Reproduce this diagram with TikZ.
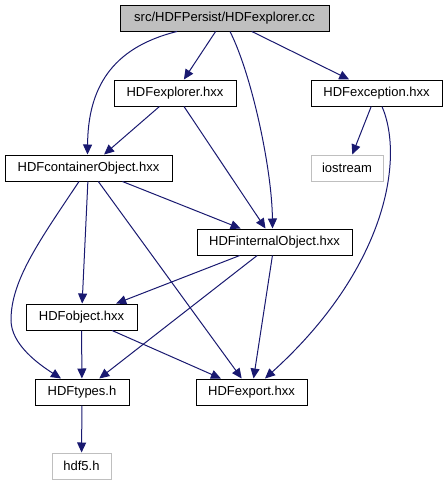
\documentclass[tikz,border=0pt]{standalone}
\usepackage{fontspec}
\setmainfont{Liberation Sans}
\usetikzlibrary{positioning,arrows.meta,calc}
\definecolor{edgeblue}{HTML}{191970}
\definecolor{sysgray}{HTML}{BFBFBF}

\begin{document}
\begin{tikzpicture}[
  x=1pt, y=-1pt,
  >={Triangle[length=10pt,width=9pt]},
  hdr/.style={draw=black, line width=1pt, minimum height=26pt, inner sep=0pt, font=\fontsize{13}{15}\selectfont},
  srcbox/.style={hdr, fill=sysgray},
  sysbox/.style={hdr, draw=sysgray},
  edge/.style={->, draw=edgeblue, line width=1pt},
]
  \useasboundingbox (0,0) rectangle (447,485);
  % nodes
  \node[srcbox, minimum width=209pt] (cc) at (224.5,18) {src/HDFPersist/HDFexplorer.cc};
  \node[hdr, minimum width=122pt] (expl) at (175,93) {HDFexplorer.hxx};
  \node[hdr, minimum width=131pt] (exc) at (376.5,93) {HDFexception.hxx};
  \node[hdr, minimum width=167pt] (cont) at (88.5,168) {HDFcontainerObject.hxx};
  \node[sysbox, minimum width=72pt] (ios) at (347,168) {iostream};
  \node[hdr, minimum width=155pt] (intern) at (274.5,242) {HDFinternalObject.hxx};
  \node[hdr, minimum width=111pt] (obj) at (81.5,317) {HDFobject.hxx};
  \node[hdr, minimum width=94pt] (types) at (82,392) {HDFtypes.h};
  \node[hdr, minimum width=111pt] (exp) at (251.5,392) {HDFexport.hxx};
  \node[sysbox, minimum width=59pt] (hdf) at (81.5,466) {hdf5.h};
  % edges
  \draw[edge] ($(cc.south)+(-47.5,0)$) .. controls (110,48) and (88,90) .. ($(cont.north)+(-1,0)$);
  \draw[edge] (cc) -- (expl);
  \draw[edge] ($(cc.south)+(5.5,0)$) .. controls (252,75) and (272,170) .. ($(intern.north)+(-2,0)$);
  \draw[edge] (cc) -- (exc);
  \draw[edge] (expl) -- (cont);
  \draw[edge] (expl) -- (intern);
  \draw[edge] (exc) -- (ios);
  \draw[edge] ($(exc.south)+(5.5,0)$) .. controls (405,160) and (385,270) .. ($(exp.north)+(13.5,0)$);
  \draw[edge] ($(cont.south)+(-9.5,0)$) .. controls (40,240) and (11,280) .. (11,320)
    .. controls (11,345) and (40,365) .. ($(types.north)+(-21,0)$);
  \draw[edge] (cont) -- (obj);
  \draw[edge] (cont) -- (exp);
  \draw[edge] (cont) -- (intern);
  \draw[edge] (intern) -- (obj);
  \draw[edge] (intern) -- (types);
  \draw[edge] (intern) -- (exp);
  \draw[edge] (obj) -- (types);
  \draw[edge] (obj) -- (exp);
  \draw[edge] (types) -- (hdf);
\end{tikzpicture}
\end{document}
